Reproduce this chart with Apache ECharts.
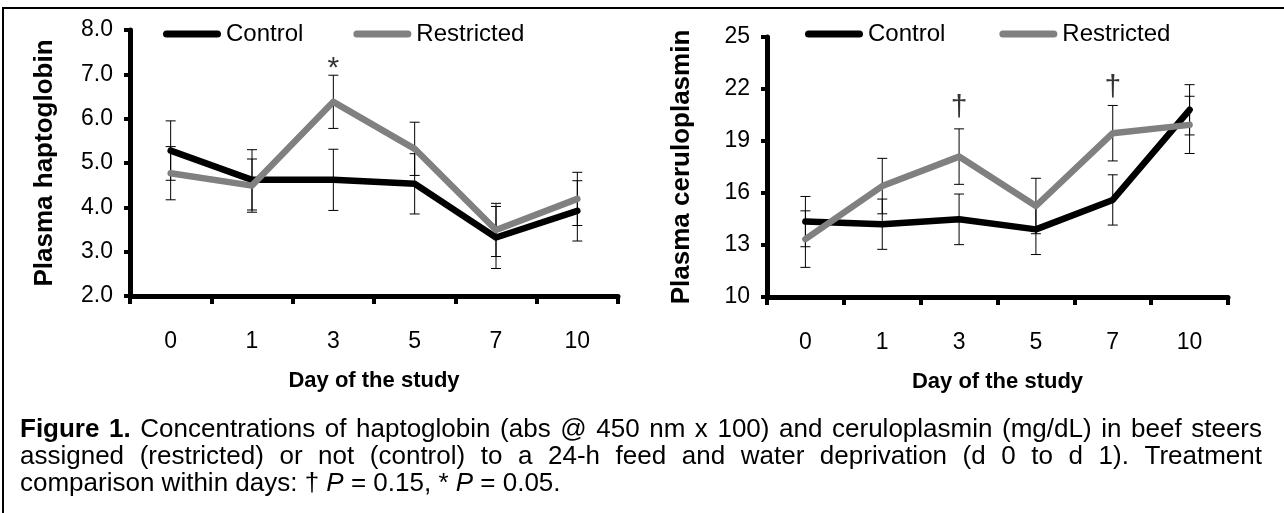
<!DOCTYPE html>
<html>
<head>
<meta charset="utf-8">
<script src="https://cdn.jsdelivr.net/npm/echarts@6/dist/echarts.min.js"></script>
<style>
html,body{margin:0;padding:0;background:#fff;}
#main{width:1284px;height:513px;}
</style>
</head>
<body>
<div id="main"></div>
<script>
// 数据
var days = ['0', '1', '3', '5', '7', '10'];
var haptoControl = [5.28, 4.62, 4.62, 4.53, 3.32, 3.92];
var haptoRestricted = [4.77, 4.49, 6.38, 5.32, 3.49, 4.19];
var haptoControlSE = [0.67, 0.68, 0.69, 0.68, 0.70, 0.68];
var haptoRestrictedSE = [0.60, 0.60, 0.60, 0.60, 0.60, 0.60];
var ceruloControl = [14.35, 14.2, 14.48, 13.9, 15.6, 20.8];
var ceruloRestricted = [13.34, 16.4, 18.1, 15.25, 19.45, 19.93];
var ceruloControlSE = [1.45, 1.45, 1.46, 1.45, 1.45, 1.45];
var ceruloRestrictedSE = [1.63, 1.60, 1.60, 1.60, 1.60, 1.65];
// 显著性标记
var haptoSigDays = ['3'];
var haptoSigY = [7.12];
var haptoSigText = ['*'];
var ceruloSigDays = ['3', '7'];
var ceruloSigY = [20.9, 22.05];
var ceruloSigText = ['\u2020', '\u2020'];

var caption1 = 'Figure 1. Concentrations of haptoglobin (abs @ 450 nm x 100) and ceruloplasmin (mg/dL) in beef steers';
var caption2 = 'assigned (restricted) or not (control) to a 24-h feed and water deprivation (d 0 to d 1). Treatment';
var captionBold = 'Figure 1.';

var FONT = '"Liberation Sans", Arial, Helvetica, sans-serif';
var CAP_SIZE = 26;
// 图例线条图标（圆头粗线）
var LEGEND_ICON = 'path://M3.5,0 L54.5,0 A3.5,3.5 0 0 1 54.5,7 L3.5,7 A3.5,3.5 0 0 1 3.5,0 Z';

function errData(vals, se) {
	var out = [];
	for (var i = 0; i < vals.length; i++) {
		out.push([days[i], vals[i] - se[i], vals[i] + se[i]]);
	}
	return out;
}
function sigData(ds, ys, txt) {
	var out = [];
	for (var i = 0; i < ds.length; i++) {
		out.push({value: [ds[i], ys[i]], label: {formatter: txt[i]}});
	}
	return out;
}

// 误差线
function renderBar(params, api) {
	var x = api.value(0);
	var lo = api.coord([x, api.value(1)]);
	var hi = api.coord([x, api.value(2)]);
	var cap = 5;
	var st = {stroke: '#000', lineWidth: 1};
	return {
		type: 'group',
		children: [
			{type: 'line', shape: {x1: hi[0], y1: hi[1], x2: lo[0], y2: lo[1]}, style: st},
			{type: 'line', shape: {x1: hi[0] - cap, y1: hi[1], x2: hi[0] + cap, y2: hi[1]}, style: st},
			{type: 'line', shape: {x1: lo[0] - cap, y1: lo[1], x2: lo[0] + cap, y2: lo[1]}, style: st}
		]
	};
}

// 两端对齐的说明文字
var measureCtx = document.createElement('canvas').getContext('2d');
function justifyLine(text, x0, x1, y, boldPrefix) {
	var words = text.split(' ');
	var nBold = boldPrefix ? boldPrefix.split(' ').length : 0;
	var widths = [], total = 0;
	for (var i = 0; i < words.length; i++) {
		measureCtx.font = (i < nBold ? 'bold ' : '') + CAP_SIZE + 'px ' + FONT;
		widths.push(measureCtx.measureText(words[i]).width);
		total += widths[i];
	}
	var gap = (x1 - x0 - total) / (words.length - 1);
	var els = [], x = x0;
	for (var j = 0; j < words.length; j++) {
		els.push({
			type: 'text', x: x, y: y,
			style: {
				text: words[j], fill: '#000', fontSize: CAP_SIZE, fontFamily: FONT,
				fontWeight: j < nBold ? 'bold' : 'normal', verticalAlign: 'middle'
			}
		});
		x += widths[j] + gap;
	}
	return els;
}

function xAxisCfg(gi) {
	return {
		type: 'category', gridIndex: gi, data: days,
		axisLine: {lineStyle: {color: '#000', width: 5}},
		axisTick: {show: true, length: 8, lineStyle: {color: '#000', width: 4}},
		axisLabel: {color: '#000', fontSize: 23, fontFamily: FONT, margin: 34},
		name: 'Day of the study', nameLocation: 'middle', nameGap: 74,
		nameTextStyle: {color: '#000', fontSize: 22, fontWeight: 'bold', fontFamily: FONT}
	};
}
function yAxisCfg(gi, min, max, step, name, dec) {
	return {
		type: 'value', gridIndex: gi, min: min, max: max, interval: step,
		axisLine: {show: true, lineStyle: {color: '#000', width: 5}},
		axisTick: {show: true, length: 6, lineStyle: {color: '#000', width: 4}},
		splitLine: {show: false},
		axisLabel: {color: '#000', fontSize: 23, fontFamily: FONT, margin: 17,
			formatter: function (v) { return v.toFixed(dec); }},
		name: name, nameLocation: 'middle', nameGap: 72,
		nameTextStyle: {color: '#000', fontSize: 26, fontWeight: 'bold', fontFamily: FONT}
	};
}
function lineSeries(name, data, color, xi, yi) {
	return {
		name: name, type: 'line', xAxisIndex: xi, yAxisIndex: yi, data: data,
		symbol: 'none', color: color, z: 3,
		lineStyle: {color: color, width: 6.5, cap: 'round', join: 'round'}
	};
}
function errSeries(data, xi, yi) {
	return {type: 'custom', xAxisIndex: xi, yAxisIndex: yi, data: data,
		renderItem: renderBar, z: 2, encode: {x: 0, y: [1, 2]}};
}
function sigSeries(data, xi, yi, size) {
	return {
		type: 'scatter', xAxisIndex: xi, yAxisIndex: yi, data: data, symbolSize: 1, z: 4,
		itemStyle: {color: 'rgba(0,0,0,0)'},
		label: {show: true, position: 'inside', color: '#000', fontSize: size, fontFamily: FONT}
	};
}
function legendCfg(left, gap) {
	return {
		data: [{name: 'Control', icon: LEGEND_ICON}, {name: 'Restricted', icon: LEGEND_ICON}],
		left: left, top: 17,
		itemWidth: 58, itemHeight: 7, itemGap: gap,
		textStyle: {color: '#000', fontSize: 24, fontFamily: FONT}
	};
}

var graphics = [{
	type: 'polyline', silent: true,
	shape: {points: [[3, 513], [3, 8], [1284, 8]]},
	style: {stroke: '#000', lineWidth: 2, fill: null}
}];
graphics = graphics.concat(justifyLine(caption1, 20, 1262, 430, captionBold));
graphics = graphics.concat(justifyLine(caption2, 20, 1262, 457, ''));
graphics.push({
	type: 'text', x: 20, y: 484,
	style: {
		text: '{n|comparison within days: \u2020 }{i|P}{n| = 0.15, * }{i|P}{n| = 0.05.}',
		verticalAlign: 'middle', fill: '#000',
		rich: {
			n: {fontSize: CAP_SIZE, fontFamily: FONT, fill: '#000'},
			i: {fontSize: CAP_SIZE, fontFamily: FONT, fontStyle: 'italic', fill: '#000'}
		}
	}
});

var chart = echarts.init(document.getElementById('main'));
chart.setOption({
	animation: false,
	backgroundColor: '#fff',
	grid: [
		{left: 130, top: 30, width: 488, height: 266},
		{left: 767, top: 37, width: 461, height: 260}
	],
	legend: [legendCfg(158, 50), legendCfg(800, 54)],
	xAxis: [xAxisCfg(0), xAxisCfg(1)],
	yAxis: [
		yAxisCfg(0, 2, 8, 1, 'Plasma haptoglobin', 1),
		yAxisCfg(1, 10, 25, 3, 'Plasma ceruloplasmin', 0)
	],
	series: [
		errSeries(errData(haptoControl, haptoControlSE), 0, 0),
		errSeries(errData(haptoRestricted, haptoRestrictedSE), 0, 0),
		lineSeries('Control', haptoControl, '#000000', 0, 0),
		lineSeries('Restricted', haptoRestricted, '#808080', 0, 0),
		sigSeries(sigData(haptoSigDays, haptoSigY, haptoSigText), 0, 0, 30),
		errSeries(errData(ceruloControl, ceruloControlSE), 1, 1),
		errSeries(errData(ceruloRestricted, ceruloRestrictedSE), 1, 1),
		lineSeries('Control', ceruloControl, '#000000', 1, 1),
		lineSeries('Restricted', ceruloRestricted, '#808080', 1, 1),
		sigSeries(sigData(ceruloSigDays, ceruloSigY, ceruloSigText), 1, 1, 30)
	],
	graphic: graphics
});
</script>
</body>
</html>
